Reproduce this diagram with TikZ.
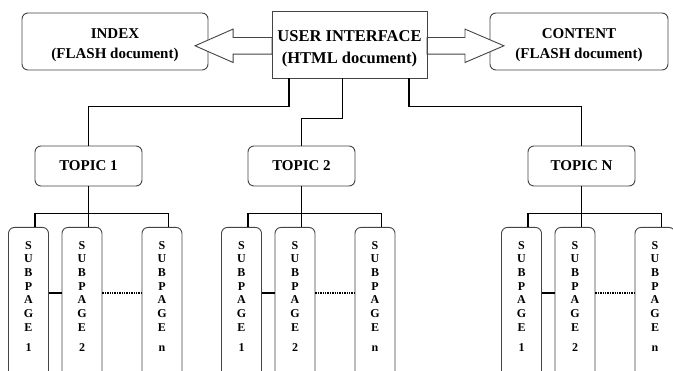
\documentclass[tikz,border=0pt]{standalone}
\usepackage{fontspec}
\setmainfont{Liberation Serif}
\usetikzlibrary{calc}
\definecolor{boxgray}{HTML}{444444}
\begin{document}
\begin{tikzpicture}[x=1pt,y=-1pt,
  box/.style={draw=boxgray, line width=0.9pt, fill=white, align=center, inner sep=0pt,
    font=\fontsize{15}{20}\selectfont\bfseries},
  rbox/.style={box, rounded corners=6pt},
  topic/.style={rbox, minimum width=107pt, minimum height=40pt},
  sub/.style={draw=boxgray, line width=0.9pt, rounded corners=6pt, anchor=north,
    minimum width=40pt, minimum height=160pt, inner sep=0pt},
  sptext/.style={anchor=north, align=center, inner sep=0pt,
    font=\fontsize{12}{13.7}\selectfont\bfseries},
  conn/.style={draw=black, line width=1.8pt},
  dotline/.style={draw=black, line width=1.4pt, densely dotted},
  arr/.style={draw=boxgray, line width=0.9pt, fill=white, line join=miter}]
\useasboundingbox (0,0) rectangle (673,371);
\clip (0,0) rectangle (673,371);

\node[rbox, minimum width=186pt, minimum height=57pt] (index) at (115,41.5) {\rule{0pt}{16.5pt}INDEX\\(FLASH document)};
\node[rbox, minimum width=178pt, minimum height=57pt] (content) at (579,41.5) {\rule{0pt}{16.5pt}CONTENT\\(FLASH document)};
\node[box, minimum width=154pt, minimum height=66pt, draw=none, fill=none, font=\fontsize{16.5}{22}\selectfont\bfseries] (ui) at (349.5,45) {\rule{0pt}{19.5pt}USER INTERFACE\\(HTML document)};

\draw[arr] ([yshift=-0.8pt]ui.west) ++(0,-8.3) -- ++(-39,0) -- ++(0,-8.4) -- ++(-38,16.7) -- ++(38,16.7) -- ++(0,-8.4) -- ++(39,0) -- cycle;
\draw[arr] ([yshift=-0.8pt]ui.east) ++(0,-8.3) -- ++(38,0) -- ++(0,-8.4) -- ++(39,16.7) -- ++(-39,16.7) -- ++(0,-8.4) -- ++(-38,0) -- cycle;
\draw[draw=boxgray, line width=0.9pt] (ui.south west) rectangle (ui.north east);

\foreach \X/\g/\lab in {88.5/1/TOPIC 1, 301.5/2/TOPIC 2, 581.5/N/TOPIC N} {
  \node[topic] (t\g) at (\X,166) {\lab};
  \node[sub] (s\g-a) at ({\X-60},227) {};
  \node[sub] (s\g-b) at ({\X-6.5},227) {};
  \node[sub] (s\g-c) at ({\X+73.5},227) {};
  \node[sptext] at ([yshift=-14pt]s\g-a.north) {S\\U\\B\\P\\A\\G\\E\\[6pt]1};
  \node[sptext] at ([yshift=-14pt]s\g-b.north) {S\\U\\B\\P\\A\\G\\E\\[6pt]2};
  \node[sptext] at ([yshift=-14pt]s\g-c.north) {S\\U\\B\\P\\A\\G\\E\\[6pt]n};
  \draw[conn] (t\g.south) -- (t\g.south |- s\g-b.north);
  \draw[conn] ([xshift=6.5pt]s\g-a.north) |- ($(t\g.south)+(0,27)$) -| ([xshift=6.5pt]s\g-c.north);
  \draw[conn] ($(s\g-a.north east)+(0,66)$) -- ($(s\g-b.north west)+(0,66)$);
  \draw[dotline] ($(s\g-b.north east)+(0,66)$) -- ($(s\g-c.north west)+(0,66)$);
}

\draw[conn] ([xshift=17pt]ui.south west) -- ++(0,28) -| (t1.north);
\draw[conn] ([xshift=70.5pt]ui.south west) -- ++(0,40) -| (t2.north);
\draw[conn] ([xshift=137pt]ui.south west) -- ++(0,28) -| (tN.north);
\end{tikzpicture}
\end{document}
